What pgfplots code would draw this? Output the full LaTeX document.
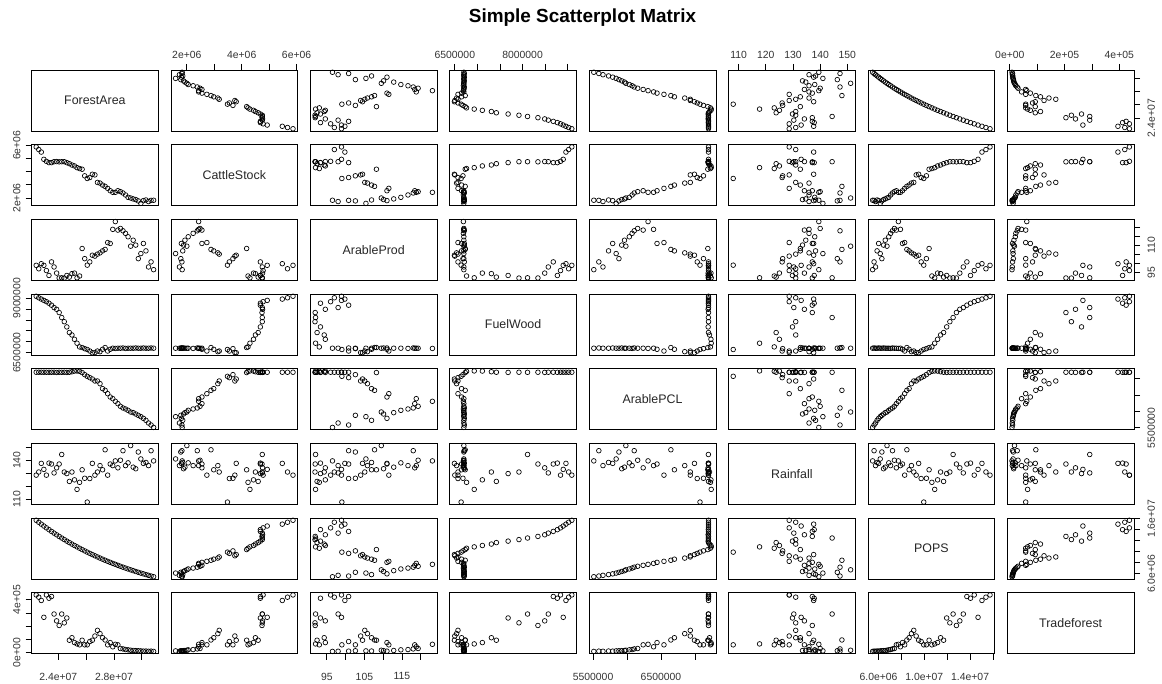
\documentclass[border=0pt]{standalone}
\usepackage{fontspec}
\setmainfont{Liberation Sans}
\usepackage{pgfplots}
\usepackage{pgfplotstable}
\pgfplotsset{compat=1.18}

% V1 ForestArea, V2 CattleStock, V3 ArableProd, V4 FuelWood,
% V5 ArablePCL, V6 Rainfall, V7 POPS, V8 Tradeforest
\pgfplotstableread{
V1 V2 V3 V4 V5 V6 V7 V8
30850000 1830000 96.5 6700000 5511000 139.5 5480000 8000
30666500 1820000 100.8 6710000 5585000 147.3 5607000 10000
30483000 1730000 98.0 6700000 5646000 135.9 5737000 9000
30299500 1850000 106.9 6700000 5728000 138.3 5871000 11000
30116000 1800000 111.0 6710000 5789000 137.6 6007000 10000
29932500 1590000 105.4 6700000 5840000 141.0 6146000 12000
29749000 1780000 102.6 6700000 5881000 146.3 6289000 13000
29565500 1880000 110.1 6710000 5922000 133.5 6435000 14000
29382000 1930000 112.8 6700000 5963000 134.7 6584000 15000
29198500 2000000 109.5 6700000 5983000 151.2 6737000 17000
29015000 2050000 114.7 6700000 6034000 138.0 6893000 20000
28831500 2230000 116.6 6690000 6075000 135.9 7053000 22000
28648000 2380000 118.0 6710000 6106000 147.3 7217000 27000
28464500 2480000 119.3 6700000 6157000 140.0 7384000 30000
28281000 2550000 118.4 6700000 6238000 134.2 7555000 58000
28097500 2430000 123.1 6690000 6310000 139.5 7731000 62000
27914000 2430000 118.8 6700000 6391000 135.9 7910000 43000
27730500 2550000 111.0 6650000 6442000 137.1 8093000 75000
27547000 2730000 111.5 6570000 6544000 128.6 8281000 58000
27363500 2880000 107.7 6730000 6646000 148.0 8473000 95000
27180000 2980000 106.9 6650000 6698000 132.7 8670000 112000
26996500 3130000 105.8 6540000 6850000 135.9 8871000 143000
26813000 3180000 105.1 6570000 6932000 131.0 9077000 168000
26629500 3750000 104.0 6500000 6932000 128.6 9287000 125000
26446000 3800000 104.5 6491000 6993000 137.6 9503000 93000
26262500 3550000 100.8 6570000 7034000 126.0 9723000 83000
26079000 3480000 99.0 6640000 7075000 108.0 9949000 58000
25895500 3680000 102.6 6680000 7126000 126.2 10180000 58000
25712000 4180000 108.2 6730000 7190000 132.7 10416000 93000
25528500 4230000 93.0 6760000 7228000 123.1 10658000 58000
25345000 4300000 92.0 6930000 7240000 117.7 10905000 65000
25161500 4430000 94.6 7110000 7236000 125.0 11158000 75000
24978000 4500000 94.3 7310000 7215000 131.0 11417000 112000
24794500 4600000 92.4 7420000 7200000 123.8 11682000 93000
24611000 4680000 93.3 7680000 7195000 129.8 11952000 262000
24427500 4750000 91.85 7920000 7200000 131.0 12230000 225000
24244000 4750000 92.0 8110000 7198000 144.4 12514000 292000
24060500 4740000 91.9 8340000 7200000 137.1 12804000 205000
23877000 4760000 94.6 8490000 7195000 134.2 13101000 240000
23693500 4750000 98.0 8570000 7200000 130.3 13405000 292000
23510000 4680000 100.8 8680000 7200000 137.1 13716000 425000
23326500 4680000 93.3 8770000 7198000 137.8 14034000 412000
23143000 4780000 96.0 8840000 7200000 128.6 14360000 437000
22959500 4930000 98.9 8900000 7200000 133.0 14693000 267000
22776000 5480000 99.8 8960000 7200000 137.6 15034000 395000
22592500 5670000 97.0 9020000 7200000 131.0 15382000 420000
22409000 5870000 98.9 9090000 7200000 128.6 15739000 437000
}\mydata

\newcommand\ticklabelfont{\fontsize{7.8}{9}\selectfont}
\newcommand\diagfont{\fontsize{9.3}{11}\selectfont}
\newcommand\titlefont{\bfseries\fontsize{14.2}{17}\selectfont}

\pgfplotsset{
  panel/.style={scale only axis, width=95.1pt, height=45.75pt, anchor=north west,
    axis line style={black, line width=0.6pt},
    xtick=\empty, ytick=\empty, tick align=outside, major tick length=4.5pt,
    every tick/.style={black, line width=0.6pt},
    tick label style={font=\ticklabelfont, text=black!80, inner sep=0pt},
    scaled ticks=false},
  mk/.style={only marks, mark=o, mark size=1.75pt, mark options={line width=0.5pt, black}},
  xv1/.style={xmin=22071360, xmax=31187640}, yv1/.style={ymin=22071360, ymax=31187640},
  xv2/.style={xmin=1418800, xmax=6041200},   yv2/.style={ymin=1418800, ymax=6041200},
  xv3/.style={xmin=90.6, xmax=124.35},       yv3/.style={ymin=90.6, ymax=124.35},
  xv4/.style={xmin=6387040, xmax=9193960},   yv4/.style={ymin=6387040, ymax=9193960},
  xv5/.style={xmin=5441840, xmax=7309160},   yv5/.style={ymin=5441840, ymax=7309160},
  xv6/.style={xmin=106.272, xmax=152.928},   yv6/.style={ymin=106.272, ymax=152.928},
  xv7/.style={xmin=5069640, xmax=16149360},  yv7/.style={ymin=5069640, ymax=16149360},
  xv8/.style={xmin=-9160, xmax=454160},      yv8/.style={ymin=-9160, ymax=454160},
  xb/.style={xtick pos=left, xticklabel pos=left, xticklabel style={anchor=north}, xticklabel shift=9.6pt},
  xt/.style={xtick pos=right, xticklabel pos=right, xticklabel style={anchor=south}, xticklabel shift=3.5pt},
  yl/.style={ytick pos=left, yticklabel pos=left, yticklabel style={rotate=90, anchor=south}, yticklabel shift=3.5pt},
  yr/.style={ytick pos=right, yticklabel pos=right, yticklabel style={rotate=90, anchor=north}, yticklabel shift=5.5pt},
  xbot1/.style={xb, xtick={24000000,26000000,28000000,30000000}, xticklabels={2.4e+07,,2.8e+07,}},
  xtop2/.style={xt, xtick={2000000,3000000,4000000,5000000,6000000}, xticklabels={2e+06,,4e+06,,6e+06}},
  xbot3/.style={xb, xtick={95,100,105,110,115,120}, xticklabels={95,,105,,115,}},
  xtop4/.style={xt, xtick={6500000,7000000,7500000,8000000,8500000,9000000}, xticklabels={6500000,,,8000000,,}},
  xbot5/.style={xb, xtick={5500000,6000000,6500000,7000000}, xticklabels={5500000,,6500000,}},
  xtop6/.style={xt, xtick={110,120,130,140,150}, xticklabels={110,120,130,140,150}},
  xbot7/.style={xb, xtick={6000000,8000000,10000000,12000000,14000000,16000000}, xticklabels={6.0e+06,,1.0e+07,,1.4e+07,}},
  xtop8/.style={xt, xtick={0,100000,200000,300000,400000}, xticklabels={0e+00,,2e+05,,4e+05}},
  yright1/.style={yr, ytick={24000000,26000000,28000000,30000000}, yticklabels={2.4e+07,,,}},
  yleft2/.style={yl, ytick={2000000,3000000,4000000,5000000,6000000}, yticklabels={2e+06,,,,6e+06}},
  yright3/.style={yr, ytick={95,100,105,110,115,120}, yticklabels={95,,,110,,}},
  yleft4/.style={yl, ytick={6500000,7000000,7500000,8000000,8500000,9000000}, yticklabels={6500000,,,,,9000000}},
  yright5/.style={yr, ytick={5500000,6000000,6500000,7000000}, yticklabels={5500000,,,}},
  yleft6/.style={yl, ytick={110,120,130,140,150}, yticklabels={110,,,140,}},
  yright7/.style={yr, ytick={6000000,8000000,10000000,12000000,14000000,16000000}, yticklabels={6.0e+06,,,,,1.6e+07}},
  yleft8/.style={yl, ytick={0,100000,200000,300000,400000}, yticklabels={0e+00,,,,4e+05}},
}

% #1 row (y variable), #2 column (x variable), #3 extra options
\newcommand\pnl[3]{%
  \begin{axis}[panel, at={({(#2-1)*104.55pt+23.625pt},{-(#1-1)*56pt-52.5pt})}, xv#2, yv#1, #3]
    \addplot[mk] table[x=V#2, y=V#1]{\mydata};
  \end{axis}}
\newcommand\dg[2]{%
  \begin{axis}[panel, at={({(#1-1)*104.55pt+23.625pt},{-(#1-1)*56pt-52.5pt})}, xmin=0, xmax=1, ymin=0, ymax=1]
    \node[font=\diagfont, text=black!85] at (axis cs:0.5,0.5) {#2};
  \end{axis}}

\begin{document}
\begin{tikzpicture}
\useasboundingbox (0,0) rectangle (871.5pt,-513pt);
\node[font=\titlefont, anchor=base] at (436.9pt,-17pt) {Simple Scatterplot Matrix};
% row 1
\dg{1}{ForestArea}
\pnl{1}{2}{xtop2}
\pnl{1}{3}{}
\pnl{1}{4}{xtop4}
\pnl{1}{5}{}
\pnl{1}{6}{xtop6}
\pnl{1}{7}{}
\pnl{1}{8}{xtop8, yright1}
% row 2
\pnl{2}{1}{yleft2}
\dg{2}{CattleStock}
\pnl{2}{3}{}
\pnl{2}{4}{}
\pnl{2}{5}{}
\pnl{2}{6}{}
\pnl{2}{7}{}
\pnl{2}{8}{}
% row 3
\pnl{3}{1}{}
\pnl{3}{2}{}
\dg{3}{ArableProd}
\pnl{3}{4}{}
\pnl{3}{5}{}
\pnl{3}{6}{}
\pnl{3}{7}{}
\pnl{3}{8}{yright3}
% row 4
\pnl{4}{1}{yleft4}
\pnl{4}{2}{}
\pnl{4}{3}{}
\dg{4}{FuelWood}
\pnl{4}{5}{}
\pnl{4}{6}{}
\pnl{4}{7}{}
\pnl{4}{8}{}
% row 5
\pnl{5}{1}{}
\pnl{5}{2}{}
\pnl{5}{3}{}
\pnl{5}{4}{}
\dg{5}{ArablePCL}
\pnl{5}{6}{}
\pnl{5}{7}{}
\pnl{5}{8}{yright5}
% row 6
\pnl{6}{1}{yleft6}
\pnl{6}{2}{}
\pnl{6}{3}{}
\pnl{6}{4}{}
\pnl{6}{5}{}
\dg{6}{Rainfall}
\pnl{6}{7}{}
\pnl{6}{8}{}
% row 7
\pnl{7}{1}{}
\pnl{7}{2}{}
\pnl{7}{3}{}
\pnl{7}{4}{}
\pnl{7}{5}{}
\pnl{7}{6}{}
\dg{7}{POPS}
\pnl{7}{8}{yright7}
% row 8
\pnl{8}{1}{xbot1, yleft8}
\pnl{8}{2}{}
\pnl{8}{3}{xbot3}
\pnl{8}{4}{}
\pnl{8}{5}{xbot5}
\pnl{8}{6}{}
\pnl{8}{7}{xbot7}
\dg{8}{Tradeforest}
\end{tikzpicture}
\end{document}
